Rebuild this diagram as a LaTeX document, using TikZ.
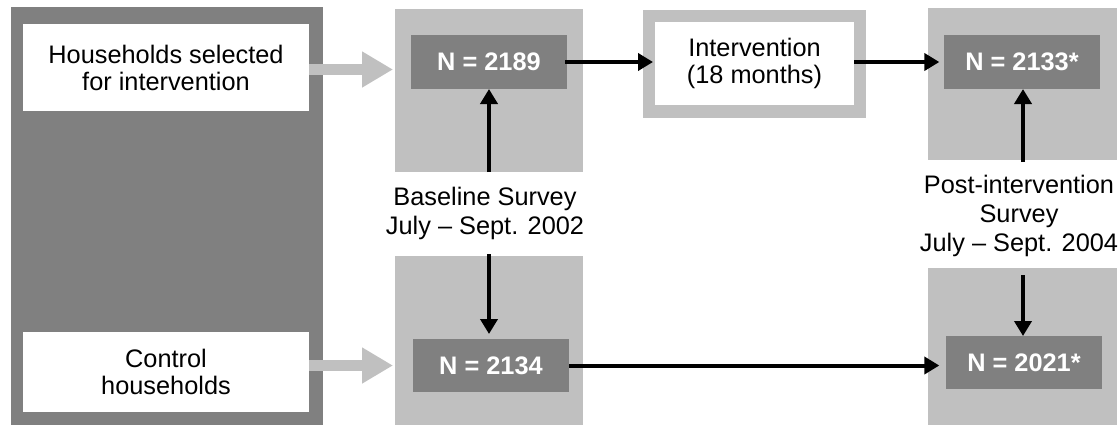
\documentclass[tikz,border=0pt]{standalone}
\usepackage{fontspec}
\setmainfont{Liberation Sans}
\usetikzlibrary{arrows.meta}
\definecolor{darkbox}{HTML}{808080}
\definecolor{lightbox}{HTML}{C0C0C0}
% lengths given in pixel units of the drawing grid
\newcommand\px[1]{#1*0.75pt}

\begin{document}
\begin{tikzpicture}[x=0.75pt,y=-0.75pt,
  box/.style={inner sep=0pt, outer sep=0pt, draw=none},
  panel/.style={box, fill=darkbox},
  group/.style={box, fill=lightbox},
  label/.style={box, fill=white, align=center,
    font=\fontsize{19pt}{20.25pt}\selectfont},
  count/.style={box, fill=darkbox, text=white,
    font=\fontsize{19pt}{21pt}\selectfont\bfseries},
  survey/.style={inner sep=0pt, align=center,
    font=\fontsize{19pt}{21.75pt}\selectfont},
  flow/.style={line width=3pt, -{Triangle[length=11.25pt,width=12.75pt]}},
  feed/.style={lightbox, line width=8.25pt, -{Triangle[length=23.25pt,width=25.5pt]}}
]
\useasboundingbox (0,0) rectangle (1119,425);

% household groups
\node[panel, minimum width=\px{312}, minimum height=\px{418}] (panel) at (167,216) {};
\node[label, minimum width=\px{286}, minimum height=\px{87}] (sel) at (166,67.5)
  {Households selected\\for intervention};
\node[label, minimum width=\px{286}, minimum height=\px{80}] (ctl) at (166,372)
  {Control\\households};

% survey blocks
\node[group, minimum width=\px{188}, minimum height=\px{163}] (blt) at (489,90.5) {};
\node[group, minimum width=\px{188}, minimum height=\px{169}] (bll) at (489,340.5) {};
\node[group, minimum width=\px{189}, minimum height=\px{152}] (trl) at (1022.5,84) {};
\node[group, minimum width=\px{189}, minimum height=\px{157}] (brl) at (1022.5,346.5) {};

\node[count, minimum width=\px{156}, minimum height=\px{54}] (n1) at (489,62) {N = 2189};
\node[count, minimum width=\px{156}, minimum height=\px{54}] (n2133) at (1022,62) {N = 2133*};
\node[count, minimum width=\px{156}, minimum height=\px{53}] (n2134) at (491,365.5) {N = 2134};
\node[count, minimum width=\px{156}, minimum height=\px{53}] (n2021) at (1024,362.5) {N = 2021*};

% intervention
\node[group, minimum width=\px{223}, minimum height=\px{108}] (intframe) at (754.5,64) {};
\node[label, minimum width=\px{199}, minimum height=\px{83}] (interv) at (754.5,63.5)
  {Intervention\\(18 months)};

% survey labels
\node[survey] (base) at (485,213) {Baseline Survey\\July – Sept. 2002};
\node[survey] (post) at (1019,216) {Post-intervention\\Survey\\July – Sept. 2004};

\coordinate (base-up) at (489,172);
\coordinate (base-dn) at (489,254);
\coordinate (post-up) at (1023,162);
\coordinate (post-dn) at (1023,275);

% entry arrows
\draw[feed, shorten >=1.5pt] ([yshift=\px{-2}]sel.east) -- ([yshift=\px{-2}]sel.east -| blt.west);
\draw[feed, shorten >=1.5pt] (ctl.east |- n2134) -- (bll.west |- n2134);

% flow arrows
\draw[flow, shorten >=1.5pt] ([xshift=\px{-2}]n1.east) -- (interv.west |- n1.east);
\draw[flow, shorten >=3.5pt] (interv.east |- n2133) -- (n2133.west);
\draw[flow, shorten >=5pt] (n2134.east) -- (n2134.east -| n2021.west);

\draw[flow] (base-up) -- (base-up |- n1.south);
\draw[flow, shorten >=3.75pt] (base-dn) -- (base-dn |- n2134.north);
\draw[flow] (post-up) -- (post-up |- n2133.south);
\draw[flow] (post-dn) -- (post-dn |- n2021.north);
\end{tikzpicture}
\end{document}
